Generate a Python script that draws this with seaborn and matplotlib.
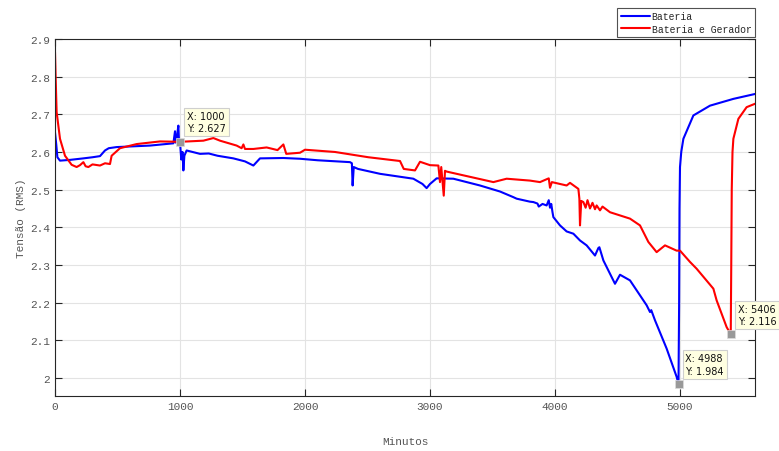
import matplotlib
matplotlib.use("Agg")
import matplotlib.pyplot as plt
import seaborn as sns
import pandas as pd

# ---- data ----
bat_x = [0, 10, 19, 40, 120, 227, 300, 360, 400, 430, 493, 760, 947, 960, 965, 975, 987, 993,
         1000, 1010, 1020, 1027, 1035, 1053, 1160, 1230, 1300, 1427, 1520, 1587, 1640, 1827,
         1960, 2100, 2360, 2375, 2381, 2390, 2424, 2600, 2867, 2940, 2973, 3000, 3053, 3187,
         3400, 3560, 3667, 3693, 3800, 3827, 3860, 3870, 3900, 3933, 3950, 3960, 3970, 3980,
         3987, 4040, 4093, 4147, 4200, 4253, 4320, 4347, 4355, 4387, 4480, 4520, 4600, 4733,
         4760, 4770, 4800, 4893, 4973, 4988, 4993, 4996, 5000, 5010, 5027, 5107, 5240, 5427, 5600]
bat_y = [2.652, 2.62, 2.586, 2.577, 2.579, 2.583, 2.586, 2.589, 2.604, 2.61, 2.613, 2.617, 2.623,
         2.655, 2.625, 2.64, 2.67, 2.62, 2.627, 2.58, 2.6, 2.551, 2.59, 2.604, 2.595, 2.596,
         2.59, 2.583, 2.575, 2.564, 2.583, 2.584, 2.582, 2.578, 2.573, 2.57, 2.511, 2.56, 2.555,
         2.542, 2.529, 2.515, 2.504, 2.515, 2.53, 2.529, 2.511, 2.495, 2.48, 2.476, 2.468,
         2.467, 2.463, 2.455, 2.462, 2.458, 2.472, 2.452, 2.462, 2.44, 2.427, 2.405, 2.389,
         2.383, 2.365, 2.352, 2.325, 2.345, 2.347, 2.312, 2.25, 2.274, 2.259, 2.193, 2.175,
         2.18, 2.153, 2.078, 2.003, 1.984, 2.2, 2.45, 2.56, 2.6, 2.635, 2.697, 2.723, 2.741, 2.754]

ger_x = [0, 5, 13, 40, 80, 133, 173, 200, 227, 245, 267, 300, 360, 400, 440, 453, 520, 653,
         840, 1000, 1187, 1267, 1320, 1453, 1493, 1507, 1520, 1587, 1693, 1780, 1827, 1850,
         1960, 2000, 2240, 2507, 2760, 2790, 2880, 2920, 3000, 3067, 3080, 3090, 3110, 3120,
         3133, 3293, 3507, 3613, 3800, 3880, 3950, 3960, 3975, 4093, 4120, 4187, 4195, 4200,
         4210, 4227, 4245, 4260, 4280, 4300, 4320, 4333, 4360, 4380, 4440, 4600, 4680, 4747,
         4813, 4880, 4973, 5000, 5080, 5133, 5267, 5293, 5373, 5406, 5410, 5414, 5420, 5427,
         5467, 5533, 5600]
ger_y = [2.865, 2.8, 2.706, 2.635, 2.59, 2.566, 2.56, 2.565, 2.573, 2.562, 2.56, 2.567, 2.564,
         2.57, 2.568, 2.59, 2.61, 2.621, 2.628, 2.627, 2.63, 2.637, 2.63, 2.617, 2.61, 2.62,
         2.608, 2.608, 2.612, 2.605, 2.62, 2.595, 2.598, 2.606, 2.6, 2.586, 2.576, 2.555, 2.551,
         2.574, 2.565, 2.564, 2.52, 2.56, 2.484, 2.55, 2.548, 2.536, 2.52, 2.529, 2.524, 2.52,
         2.53, 2.505, 2.52, 2.511, 2.518, 2.502, 2.476, 2.405, 2.47, 2.467, 2.452, 2.472, 2.45,
         2.465, 2.448, 2.458, 2.445, 2.455, 2.44, 2.423, 2.405, 2.361, 2.334, 2.352, 2.338,
         2.338, 2.308, 2.29, 2.237, 2.206, 2.135, 2.116, 2.3, 2.5, 2.6, 2.635, 2.688, 2.719, 2.728]

series_names = ["Bateria", "Bateria e Gerador"]
tips_x = [1000, 4988, 5406]
tips_y = [2.627, 1.984, 2.116]

# ---- build table ----
df = pd.concat([
    pd.DataFrame({"Minutos": bat_x, "Tensao": bat_y, "serie": series_names[0]}),
    pd.DataFrame({"Minutos": ger_x, "Tensao": ger_y, "serie": series_names[1]}),
], ignore_index=True)

sns.set_style("white")
plt.rcParams["font.family"] = ["Liberation Mono", "DejaVu Sans Mono"]

fig = plt.figure(figsize=(7.79, 4.52), dpi=100)
ax = fig.add_axes([55 / 779, 1 - 397 / 452, 700 / 779, 357 / 452])

sns.lineplot(data=df, x="Minutos", y="Tensao", hue="serie", palette=["#0000ff", "#ff0000"],
             sort=False, estimator=None, linewidth=1.5, ax=ax, legend=True)

ax.set_xlim(0, 5600)
ax.set_ylim(1.952, 2.9)
ax.set_xticks([0, 1000, 2000, 3000, 4000, 5000])
ax.set_yticks([2, 2.1, 2.2, 2.3, 2.4, 2.5, 2.6, 2.7, 2.8, 2.9])
ax.set_yticklabels(["2", "2.1", "2.2", "2.3", "2.4", "2.5", "2.6", "2.7", "2.8", "2.9"])
ax.grid(True, color="#e3e3e3", linewidth=0.8)
ax.set_axisbelow(True)
ax.tick_params(direction="in", length=5, width=0.8, colors="#262626", labelcolor="#555555",
               labelsize=8, top=True, right=True, bottom=True, left=True)
for s in ax.spines.values():
    s.set_color("#262626")
    s.set_linewidth(0.8)
ax.set_xlabel("Minutos", fontsize=8, color="#555555", labelpad=18)
ax.set_ylabel("Tensão (RMS)", fontsize=8, color="#555555", labelpad=3)

# legend outside top right
leg = ax.legend(loc="lower right", bbox_to_anchor=(1.0, 1.005), frameon=True, fancybox=False,
                fontsize=7, handlelength=3.0, borderpad=0.35, labelspacing=0.25,
                handletextpad=0.2, borderaxespad=0.0, title=None)
leg.get_frame().set_edgecolor("#262626")
leg.get_frame().set_linewidth(0.8)

# data tips
for tx, ty in zip(tips_x, tips_y):
    ax.plot([tx], [ty], marker="s", markersize=6, color="#999999",
            markeredgecolor="#dddddd", markeredgewidth=0.5, zorder=5, clip_on=False)
    ax.annotate(f"X: {tx}\nY: {ty}", xy=(tx, ty), xytext=(5, 6), textcoords="offset points",
                fontsize=7, family="DejaVu Sans", color="#111111", ha="left", va="bottom",
                linespacing=1.3, annotation_clip=False, zorder=6,
                bbox=dict(boxstyle="square,pad=0.3", fc="#ffffe1", ec="#cfcfcf", lw=0.8))

fig.savefig("out.png", dpi=100)
